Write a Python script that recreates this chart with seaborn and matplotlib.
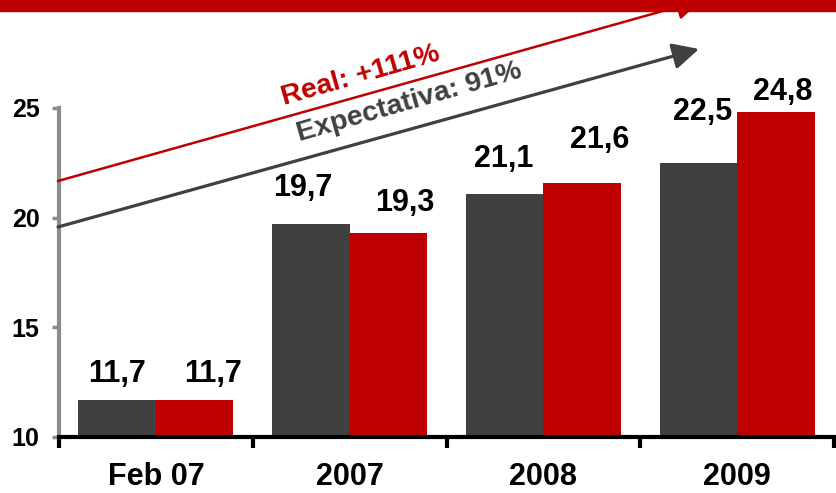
import matplotlib
matplotlib.use("Agg")
import matplotlib.pyplot as plt
import seaborn as sns
import pandas as pd
from matplotlib.patches import Rectangle

categories = ["Feb 07", "2007", "2008", "2009"]
expectativa = [11.7, 19.7, 21.1, 22.5]
real = [11.7, 19.3, 21.6, 24.8]
series_names = ["Expectativa", "Real"]
y_ticks = [10, 15, 20, 25]

DARK = "#404040"
RED = "#C00000"

sns.set_theme(style="white")
plt.rcParams["font.family"] = ["Liberation Sans", "DejaVu Sans"]
plt.rcParams["font.weight"] = "bold"

df = pd.DataFrame({
    "cat": categories * 2,
    "serie": [series_names[0]] * 4 + [series_names[1]] * 4,
    "val": expectativa + real,
})

fig = plt.figure(figsize=(8.36, 4.93), dpi=100)
ax = fig.add_axes([59 / 836, 1 - 437 / 493, 1 - 59 / 836 - 2 / 836, (437 - 108) / 493])

sns.barplot(data=df, x="cat", y="val", hue="serie", order=categories,
            hue_order=series_names, palette=[DARK, RED], width=0.8,
            gap=0, saturation=1, legend=False, ax=ax, zorder=2,
            linewidth=0, edgecolor="none")

ax.set_ylim(10, 25)
ax.set_xlim(-0.5, len(categories) - 0.5)
ax.set_xlabel("")
ax.set_ylabel("")
ax.set_yticks(y_ticks)
ax.set_yticklabels([str(t) for t in y_ticks], fontsize=18, fontweight="bold")
ax.set_xticks(range(len(categories)))
ax.set_xticklabels(categories, fontsize=22, fontweight="bold")
ax.set_xticks([i - 0.5 for i in range(len(categories) + 1)], minor=True)

for s in ["top", "right"]:
    ax.spines[s].set_visible(False)
ax.spines["left"].set_color("#8c8c8c")
ax.spines["left"].set_linewidth(3)
ax.spines["bottom"].set_color("black")
ax.spines["bottom"].set_linewidth(3)
ax.spines["bottom"].set_zorder(5)

ax.tick_params(axis="y", which="major", left=True, length=5, width=2.5,
               color="#8c8c8c", pad=9, labelcolor="black")
ax.tick_params(axis="x", which="major", bottom=True, length=0, pad=18,
               labelcolor="black")
ax.tick_params(axis="x", which="minor", bottom=True, length=8, width=3,
               color="black")

# value labels (offsets in pixels: dx, dy)
offs_exp = [(0, 11), (-8, 21), (-1, 20), (4, 36)]
offs_real = [(18, 11), (16, 15), (18, 28), (7, 5)]
for cont, vals, offs in zip(ax.containers, [expectativa, real], [offs_exp, offs_real]):
    for bar, v, (dx, dy) in zip(cont, vals, offs):
        ax.annotate(f"{v:.1f}".replace(".", ","),
                    xy=(bar.get_x() + bar.get_width() / 2, bar.get_height()),
                    xytext=(dx, dy), textcoords="offset pixels",
                    ha="center", va="bottom", fontsize=22, fontweight="bold",
                    color="black", annotation_clip=False)

# trend arrows (figure pixel fractions)
def fp(px, py):
    return (px / 836, 1 - py / 493)

ax.annotate("", xy=fp(699, 49), xytext=fp(58, 227), xycoords="figure fraction",
            textcoords="figure fraction",
            arrowprops=dict(arrowstyle="-|>,head_length=0.8,head_width=0.4",
                            mutation_scale=20, lw=2.3, color=DARK,
                            shrinkA=0, shrinkB=0))
ax.annotate("", xy=fp(702, 0), xytext=fp(58, 181), xycoords="figure fraction",
            textcoords="figure fraction",
            arrowprops=dict(arrowstyle="-|>,head_length=0.8,head_width=0.4",
                            mutation_scale=20, lw=1.8, color=RED,
                            shrinkA=0, shrinkB=0))

fig.text(*fp(361, 76), "Real: +111%", color=RED, fontsize=20.5,
         fontweight="bold", rotation=16, ha="center", va="center",
         rotation_mode="anchor")
fig.text(*fp(409, 102), "Expectativa: 91%", color=DARK, fontsize=20.5,
         fontweight="bold", rotation=16, ha="center", va="center",
         rotation_mode="anchor")

# top red band
fig.patches.append(Rectangle((0, 1 - 11 / 493), 1, 11 / 493,
                             transform=fig.transFigure, color=RED, zorder=10))

fig.savefig("out.png", dpi=100)
